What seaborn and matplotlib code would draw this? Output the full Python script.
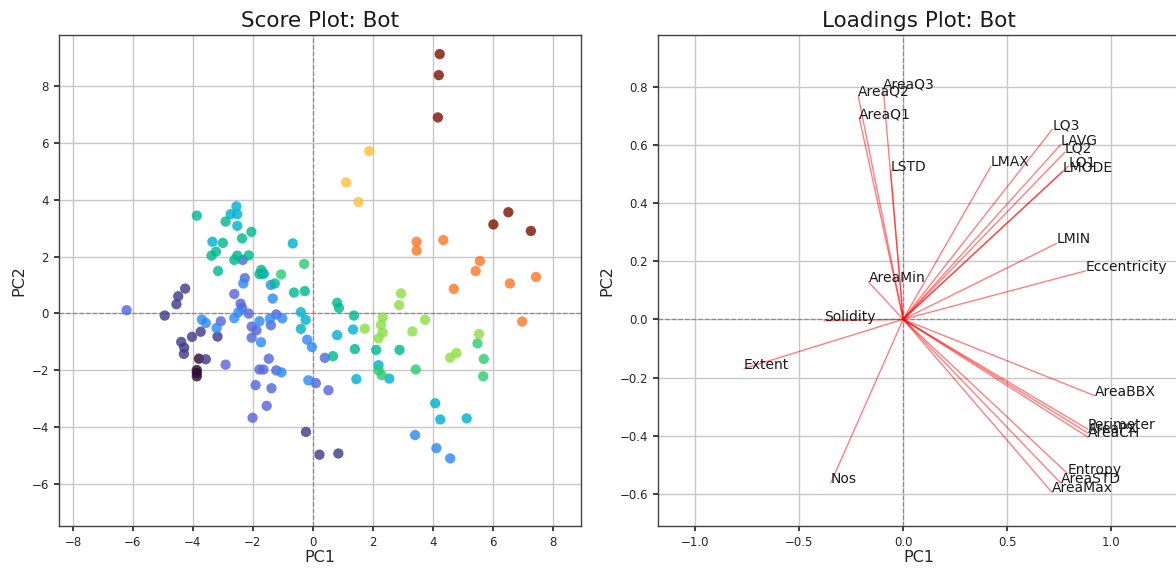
import numpy as np
import pandas as pd
import matplotlib
matplotlib.use("Agg")
import matplotlib.pyplot as plt
import seaborn as sns

# ---------------- Score plot data ----------------
pc1 = [
    -3.80, -3.87, -3.87, -3.87,
    -4.94, -4.26, -4.49, -4.55, -4.39, -4.29, -4.30, -4.03, -3.57, -3.74, -3.18, -0.23, 0.22, 0.85,
    -6.21, -3.07, -2.91, -2.62, -2.41, -2.36, -2.27, -2.34, -2.14, -2.04, -1.88, -2.04, -1.47, -1.78,
    -1.65, -1.91, -1.38, -1.54, -2.01, -1.22, -1.40, -1.22, 0.10, 0.52, 0.40,
    -3.70, -3.57, -3.21, -2.62, -2.48, -2.32, -1.73, -1.78, -1.05, -1.43, -1.02, -1.34, -1.40, -1.68,
    -0.19, -0.03, -0.15, 3.41, 4.12, 4.58,
    -1.63, -3.35, -2.74, -2.55, -2.52, -2.52, -0.67, -0.40, -0.24, -0.40, 0.81, 1.34, 1.45, 2.19,
    2.55, 4.08, 4.25, 5.13,
    -1.27, -1.72, -1.78, -3.87, -3.00, -3.23, -3.38, -3.16, -2.91, -2.36, -2.05, -2.52, -2.62, -2.14,
    -0.63, -0.27, 0.81, 0.87, 1.37, 1.40, 2.11, 2.89, 0.67,
    -1.06, -0.29, 2.19, 2.30, 3.43, 5.49, 5.70, 5.68,
    1.73, 2.33, 2.27, 2.33, 2.19, 2.88, 2.94, 3.32, 3.74, 5.54, 4.79, 4.58,
    1.88, 1.11, 1.52,
    3.46, 3.46, 4.35, 5.57, 5.43, 6.57, 7.44, 4.70, 6.98,
    4.23, 4.20, 4.17, 6.02, 6.52, 7.27,
]
pc2 = [
    -1.60, -2.00, -2.10, -2.22,
    -0.08, 0.87, 0.60, 0.32, -1.01, -1.21, -1.43, -0.83, -1.62, -0.65, -0.82, -4.18, -4.98, -4.94,
    0.11, -0.28, -1.81, 0.68, 0.34, 0.19, 1.24, 1.88, -0.01, -0.47, -0.60, -0.86, -1.60, -1.98,
    -1.98, -2.53, -2.64, -3.26, -3.68, -2.01, -0.42, -0.04, -2.46, -2.71, -1.57,
    -0.22, -0.34, -0.52, -0.17, 0.04, 1.05, -1.02, -0.28, -2.08, -0.19, -0.18, 0.52, 1.00, 1.40,
    -0.93, -1.19, -2.36, -4.29, -4.75, -5.11,
    1.39, 2.52, 3.49, 3.77, 3.49, 3.08, 2.46, 0.04, -0.23, -0.55, -0.77, -0.57, -2.32, -1.83,
    -2.30, -3.17, -3.74, -3.70,
    1.05, 1.53, 1.38, 3.44, 2.48, 2.17, 2.03, 1.49, 3.23, 2.64, 2.87, 2.03, 1.88, 2.04,
    0.73, 0.78, 0.37, 0.19, -0.08, -1.26, -1.29, -1.29, -1.51,
    1.37, 1.74, -2.01, -2.18, -1.98, -1.06, -1.61, -2.22,
    -0.54, -0.15, -0.41, -0.68, -0.88, 0.29, 0.70, -0.64, -0.23, -0.73, -1.40, -1.56,
    5.71, 4.61, 3.92,
    2.52, 2.21, 2.58, 1.84, 1.49, 1.05, 1.28, 0.86, -0.29,
    9.13, 8.39, 6.90, 3.13, 3.56, 2.90,
]
group_sizes = [4, 14, 25, 20, 18, 23, 8, 12, 3, 9, 6]
group_colors = ["#2e0d33", "#3f3d8a", "#5568db", "#2e8af6", "#00b3d1", "#00ba8f",
                "#2ecc73", "#8ede45", "#ffbf40", "#ff7826", "#7d1705"]

# ---------------- Loadings data ----------------
features = ["AreaQ3", "AreaQ2", "AreaQ1", "LSTD", "LMAX", "LQ3", "LAVG", "LQ2", "LQ1", "LMODE",
            "LMIN", "Eccentricity", "AreaMin", "Solidity", "Extent", "Nos", "AreaBBX",
            "Perimeter", "AreaPX", "AreaCH", "Entropy", "AreaSTD", "AreaMax"]
load_pc1 = [-0.096, -0.216, -0.211, -0.060, 0.422, 0.717, 0.757, 0.778, 0.794, 0.767,
            0.738, 0.879, -0.167, -0.380, -0.765, -0.348, 0.920,
            0.889, 0.887, 0.889, 0.790, 0.757, 0.716]
load_pc2 = [0.795, 0.768, 0.692, 0.511, 0.526, 0.653, 0.600, 0.575, 0.526, 0.508,
            0.261, 0.167, 0.129, -0.005, -0.169, -0.562, -0.262,
            -0.378, -0.390, -0.405, -0.530, -0.562, -0.595]

# ---------------- Figure ----------------
sns.set_theme(style="whitegrid")
plt.rcParams.update({
    "font.family": ["DejaVu Sans"],
    "axes.edgecolor": "0.25",
    "axes.linewidth": 1.0,
    "grid.color": "0.78",
    "grid.linewidth": 1.0,
    "xtick.bottom": True, "ytick.left": True,
    "xtick.major.size": 3.5, "ytick.major.size": 3.5,
    "xtick.color": "0.15", "ytick.color": "0.15",
    "xtick.labelsize": 8.5, "ytick.labelsize": 8.5,
})

fig = plt.figure(figsize=(11.76, 5.68), dpi=100)
ax1 = fig.add_axes([0.0498, 0.0741, 0.4442, 0.8641])
ax2 = fig.add_axes([0.5595, 0.0741, 0.4442, 0.8641])

group_ids = np.repeat(np.arange(len(group_sizes)), group_sizes)
df = pd.DataFrame({"PC1": pc1, "PC2": pc2, "group": group_ids})
sns.scatterplot(data=df, x="PC1", y="PC2", hue="group", palette=group_colors,
                s=55, alpha=0.82, linewidth=0, legend=False, ax=ax1, zorder=3)
ax1.axhline(0, color="0.55", ls="--", lw=0.9, zorder=2)
ax1.axvline(0, color="0.55", ls="--", lw=0.9, zorder=2)
ax1.set_xlim(-8.48, 8.94)
ax1.set_ylim(-7.49, 9.8)
ax1.set_xticks(np.arange(-8, 9, 2))
ax1.set_yticks(np.arange(-6, 9, 2))
ax1.set_title("Score Plot: Bot", fontsize=15.5, color="0.1")
ax1.set_xlabel("PC1", fontsize=11.5, color="0.15", labelpad=1)
ax1.set_ylabel("PC2", fontsize=11.5, color="0.15")

for f, lx, ly in zip(features, load_pc1, load_pc2):
    ax2.plot([0, lx], [0, ly], color="red", alpha=0.5, lw=1.0, zorder=3)
    ax2.text(lx, ly, f, fontsize=10, color="0.1", zorder=4)
ax2.axhline(0, color="0.55", ls="--", lw=0.9, zorder=2)
ax2.axvline(0, color="0.55", ls="--", lw=0.9, zorder=2)
ax2.set_xlim(-1.179, 1.333)
ax2.set_ylim(-0.71, 0.977)
ax2.set_xticks([-1.0, -0.5, 0.0, 0.5, 1.0])
ax2.set_yticks(np.round(np.arange(-0.6, 0.81, 0.2), 1))
ax2.set_title("Loadings Plot: Bot", fontsize=15.5, color="0.1")
ax2.set_xlabel("PC1", fontsize=11.5, color="0.15", labelpad=1)
ax2.set_ylabel("PC2", fontsize=11.5, color="0.15")

fig.savefig("out.png", dpi=100)
